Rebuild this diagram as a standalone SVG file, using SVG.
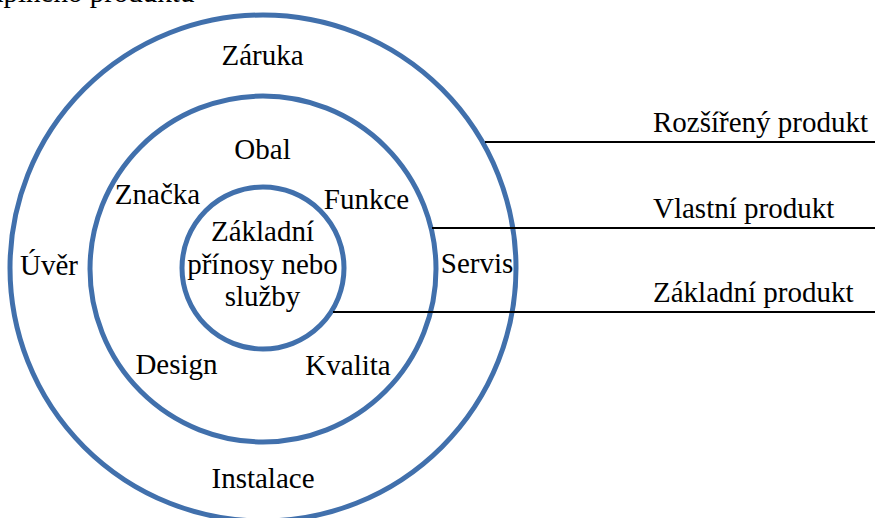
<svg xmlns="http://www.w3.org/2000/svg" width="875" height="518" viewBox="0 0 875 518">
<style>
.ring{fill:none;stroke:#4170AC;stroke-width:5}
text{font-family:'Liberation Serif','Times New Roman','DejaVu Serif',serif;font-size:29px;fill:#000}
.m{text-anchor:middle}
.ln{stroke:#000;stroke-width:2;fill:none}
</style>
<rect width="875" height="518" fill="#fff"/>
<text x="-11" y="2">úplného produktu</text>
<g id="outer">
<circle class="ring" cx="263" cy="268" r="253"/>
<text class="m" x="262.5" y="65">Záruka</text>
<text class="m" x="49" y="275">Úvěr</text>
<text class="m" x="477" y="273">Servis</text>
<text class="m" x="263" y="488">Instalace</text>
</g>
<g id="middle">
<circle class="ring" cx="263" cy="269" r="173"/>
<text class="m" x="262.5" y="159">Obal</text>
<text class="m" x="157.5" y="204">Značka</text>
<text class="m" x="366.5" y="209">Funkce</text>
<text class="m" x="176.5" y="374">Design</text>
<text class="m" x="348" y="375">Kvalita</text>
</g>
<g id="inner">
<circle class="ring" cx="263" cy="268" r="81"/>
<text class="m" x="262.5" y="241">Základní</text>
<text class="m" x="262.5" y="274">přínosy nebo</text>
<text class="m" x="262.5" y="306">služby</text>
</g>
<g id="connectors">
<line class="ln" x1="485" y1="142" x2="875" y2="142"/>
<line class="ln" x1="432" y1="228" x2="875" y2="228"/>
<line class="ln" x1="333" y1="312" x2="875" y2="312"/>
</g>
<g id="label-rozsireny"><text x="653" y="132">Rozšířený produkt</text></g>
<g id="label-vlastni"><text x="653" y="218">Vlastní produkt</text></g>
<g id="label-zakladni"><text x="653" y="302">Základní produkt</text></g>
</svg>
